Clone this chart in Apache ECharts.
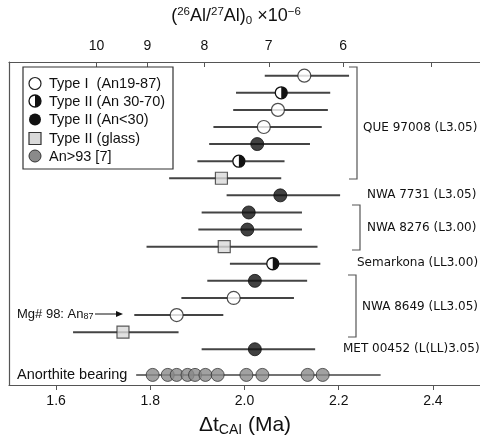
<!DOCTYPE html>
<html>
<head>
<meta charset="utf-8">
<script src="https://cdn.jsdelivr.net/npm/echarts@6/dist/echarts.min.js"></script>
<style>html,body{margin:0;padding:0;background:#fff}#c{width:480px;height:437px}</style>
</head>
<body>
<div id="c"></div>
<script>
// ---- data ----
const rowPos   = [0,1,2,3,4,5,6,7,8,9,10,11,12,13,14,15,16];
const rowType  = ['I','IIm','I','I','IIl','IIm','G','IIl','IIl','IIl','G','IIm','IIl','I','I','G','IIl'];
const centers  = [2.127,2.078,2.071,2.041,2.027,1.988,1.951,2.076,2.009,2.006,1.957,2.060,2.022,1.977,1.856,1.742,2.022];
const lows     = [2.043,1.982,1.976,1.934,1.925,1.900,1.840,1.962,1.909,1.902,1.792,1.969,1.921,1.866,1.766,1.636,1.909];
const highs    = [2.222,2.182,2.177,2.164,2.139,2.085,2.078,2.203,2.122,2.122,2.155,2.161,2.133,2.105,1.955,1.860,2.150];
const anorthite = [1.805,1.837,1.856,1.879,1.895,1.917,1.943,2.004,2.038,2.134,2.166];
const anorthiteRange = [1.770,2.289];
const anorthiteRow = 17.5;
const bottomTicks = [1.6,1.8,2.0,2.2,2.4];
const topTickR  = [10,9,8,7,6,5];
const topLabelR = [10,9,8,7,6];
const tau = 1.025, R0 = 51.8;   // Δt = tau*ln(R0/R)
const dt = r => tau*Math.log(R0/r);

const chart = echarts.init(document.getElementById('c'));
const font = "'Liberation Sans', Arial, sans-serif";
const dj = "'DejaVu Sans', sans-serif";

const errData = rowPos.map((y,i)=>[lows[i],highs[i],y,2]);
errData.push([anorthiteRange[0],anorthiteRange[1],anorthiteRow,1.5]);

function pick(t){ return rowPos.map((y,i)=>rowType[i]===t?[centers[i],y]:null).filter(Boolean); }

function halfGroup(cx,cy,r,z){
  return {type:'group',children:[
    {type:'circle',z:z||0,shape:{cx:cx,cy:cy,r:r},style:{fill:'#fff',stroke:'#111',lineWidth:1.3}},
    {type:'sector',z:z||0,shape:{cx:cx,cy:cy,r0:0,r:r,startAngle:-Math.PI/2,endAngle:Math.PI/2,clockwise:true},style:{fill:'#111'}}
  ]};
}
function txt(x,y,s,size,fam,extra){
  return Object.assign({type:'text',x:x,y:y,z:11,style:{text:s,fontSize:size,fontFamily:fam,fill:'#111',verticalAlign:'middle'}},extra||{});
}

chart.setOption({
  animation:false,
  grid:{left:9,top:62,right:-3,bottom:52},
  xAxis:[{
    type:'value',min:1.5,max:2.5,position:'bottom',
    axisLine:{show:true,onZero:false,lineStyle:{color:'#555',width:1.2}},
    axisTick:{show:true,length:5,customValues:bottomTicks,lineStyle:{color:'#555'}},
    axisLabel:{show:true,customValues:bottomTicks,formatter:v=>v.toFixed(1),fontFamily:font,fontSize:14,color:'#111',margin:9},
    splitLine:{show:false}
  },{
    type:'value',min:1.5,max:2.5,position:'top',
    axisLine:{show:true,onZero:false,lineStyle:{color:'#555',width:1.2}},
    axisTick:{show:true,inside:true,length:5,customValues:topTickR.map(dt),lineStyle:{color:'#555'}},
    axisLabel:{show:true,customValues:topLabelR.map(dt),formatter:v=>String(Math.round(R0*Math.exp(-v/tau))),fontFamily:font,fontSize:14,color:'#111',margin:9},
    splitLine:{show:false}
  }],
  yAxis:{type:'value',inverse:true,min:-0.8,max:18.09,
    axisLine:{show:true,onZero:false,lineStyle:{color:'#555',width:1.2}},axisTick:{show:false},axisLabel:{show:false},splitLine:{show:false}},
  series:[
    {type:'custom',data:errData,z:2,clip:false,
      renderItem:(p,api)=>{const a=api.coord([api.value(0),api.value(2)]);const b=api.coord([api.value(1),api.value(2)]);
        return {type:'line',shape:{x1:a[0],y1:a[1],x2:b[0],y2:b[1]},style:{stroke:'#444',lineWidth:api.value(3)}};}},
    {type:'scatter',data:pick('I'),symbol:'circle',symbolSize:13,z:5,itemStyle:{color:'#fff',borderColor:'#222',borderWidth:1.2}},
    {type:'scatter',data:pick('IIl'),symbol:'circle',symbolSize:13,z:5,itemStyle:{color:'#111',borderColor:'#111',borderWidth:1}},
    {type:'scatter',data:pick('G'),symbol:'rect',symbolSize:12,z:5,itemStyle:{color:'#d9d9d9',borderColor:'#333',borderWidth:1.2}},
    {type:'custom',data:pick('IIm'),z:5,
      renderItem:(p,api)=>{const c=api.coord([api.value(0),api.value(1)]);return halfGroup(c[0],c[1],6);}},
    {type:'scatter',data:anorthite.map(v=>[v,anorthiteRow]),symbol:'circle',symbolSize:13,z:5,itemStyle:{color:'#8a8a8a',borderColor:'#333',borderWidth:1}}
  ],
  graphic:[
    // legend
    {type:'rect',shape:{x:23,y:67,width:150,height:102},style:{fill:'#fff',stroke:'#333',lineWidth:1.2},z:10},
    {type:'circle',shape:{cx:35,cy:83.5,r:6},style:{fill:'#fff',stroke:'#222',lineWidth:1.2},z:11},
    halfGroup(35,101,6,11),
    {type:'circle',shape:{cx:35,cy:119.5,r:6},style:{fill:'#111'},z:11},
    {type:'rect',shape:{x:29,y:132.5,width:12,height:12},style:{fill:'#d9d9d9',stroke:'#333',lineWidth:1.2},z:11},
    {type:'circle',shape:{cx:35,cy:156,r:6},style:{fill:'#8a8a8a',stroke:'#333',lineWidth:1},z:11},
    txt(49,84,'Type I  (An19-87)',14.5,font),
    txt(49,101.5,'Type II (An 30-70)',14.5,font),
    txt(49,120,'Type II (An<30)',14.5,font),
    txt(49,139,'Type II (glass)',14.5,font),
    txt(49,156.5,'An>93 [7]',14.5,font),
    // brackets
    {type:'polyline',shape:{points:[[349,67],[357,67],[357,179],[349,179]]},style:{fill:null,stroke:'#555',lineWidth:1.2}},
    {type:'polyline',shape:{points:[[352,205],[360,205],[360,250],[352,250]]},style:{fill:null,stroke:'#555',lineWidth:1.2}},
    {type:'polyline',shape:{points:[[348,275],[356,275],[356,337],[348,337]]},style:{fill:null,stroke:'#555',lineWidth:1.2}},
    // right labels
    txt(363,128,'QUE 97008 (L3.05)',12,dj),
    txt(367,195,'NWA 7731 (L3.05)',12,dj),
    txt(367,228,'NWA 8276 (L3.00)',12,dj),
    txt(357,263,'Semarkona (LL3.00)',12,dj),
    txt(362,307,'NWA 8649 (LL3.05)',12,dj),
    txt(343,349,'MET 00452 (L(LL)3.05)',12,dj),
    txt(17,375,'Anorthite bearing',14.5,font),
    // Mg# annotation
    {type:'text',x:17,y:314,style:{text:'{a|Mg# 98: An}{s|87}',verticalAlign:'middle',
      rich:{a:{fontSize:13,fontFamily:font,fill:'#111'},s:{fontSize:9,fontFamily:font,fill:'#111',padding:[6,0,0,0]}}}},
    {type:'line',shape:{x1:95,y1:314,x2:117,y2:314},style:{stroke:'#111',lineWidth:1}},
    {type:'polygon',shape:{points:[[116,311],[123,314],[116,317]]},style:{fill:'#111'}},
    // titles
    {type:'text',x:236,y:16,style:{text:'{m|(}{p|26}{m|Al/}{p|27}{m|Al)}{b|0}{m| \u00d710}{p|\u22126}',align:'center',verticalAlign:'middle',
      rich:{m:{fontSize:18,fontFamily:font,fill:'#111'},p:{fontSize:11.5,fontFamily:font,fill:'#111',padding:[0,0,9,0]},b:{fontSize:11.5,fontFamily:font,fill:'#111',padding:[9,0,0,0]}}}},
    {type:'text',x:245,y:425,style:{text:'{m|\u0394t}{b|CAI}{m| (Ma)}',align:'center',verticalAlign:'middle',
      rich:{m:{fontSize:21,fontFamily:font,fill:'#111'},b:{fontSize:14,fontFamily:font,fill:'#111',padding:[10,0,0,0]}}}}
  ]
});
</script>
</body>
</html>
